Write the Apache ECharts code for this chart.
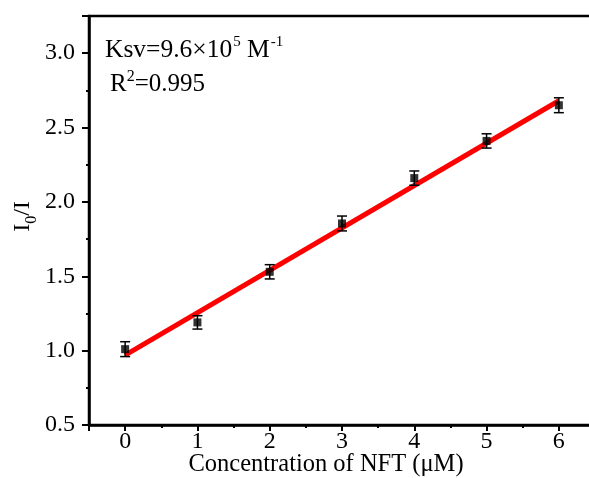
<!DOCTYPE html>
<html>
<head>
<meta charset="utf-8">
<script src="https://cdn.jsdelivr.net/npm/echarts@6/dist/echarts.min.js"></script>
<style>html,body{margin:0;padding:0;background:#fff}#c{width:589px;height:478px}</style>
</head>
<body>
<div id="c"></div>
<script>
// Data
const concentrations = [0, 1, 2, 3, 4, 5, 6];
const ratioValues = [1.01, 1.19, 1.53, 1.855, 2.16, 2.41, 2.65];
const ratioErrors = [0.05, 0.045, 0.048, 0.05, 0.048, 0.048, 0.05];
const fitX = [0, 6];
const fitY = [0.97, 2.68];
const yTickLabels = ['0.5', '1.0', '1.5', '2.0', '2.5', '3.0'];
const xTickLabels = ['0', '1', '2', '3', '4', '5', '6'];

const FONT = '"Liberation Serif", "Times New Roman", serif';
const chart = echarts.init(document.getElementById('c'), null, {renderer: 'canvas'});

const pts = concentrations.map((x, i) => [x, ratioValues[i]]);
const errs = concentrations.map((x, i) => [x, ratioValues[i] - ratioErrors[i], ratioValues[i] + ratioErrors[i]]);
const fit = fitX.map((x, i) => [x, fitY[i]]);

chart.setOption({
  animation: false,
  backgroundColor: '#fff',
  grid: {left: 89, right: -6, top: 16, bottom: 53, containLabel: false, outerBoundsMode: 'none',
         show: true, borderColor: '#000', borderWidth: 2.5, backgroundColor: 'transparent'},
  xAxis: {
    type: 'value', min: -0.5, max: 6.5, splitNumber: 7,
    name: 'Concentration of NFT (\u03bcM)', nameLocation: 'middle', nameGap: 27, nameMoveOverlap: false,
    nameTextStyle: {fontFamily: FONT, fontSize: 24.5, color: '#000', padding: [0, 32, 0, 0]},
    axisLine: {onZero: false, lineStyle: {color: '#000', width: 2.5}},
    axisTick: {show: true, inside: false, length: 6, lineStyle: {color: '#000', width: 2}},
    minorTick: {show: true, splitNumber: 2, length: 3, lineStyle: {color: '#000', width: 2}},
    splitLine: {show: false},
    axisLabel: {
      fontFamily: FONT, fontSize: 24, color: '#000', margin: 5, showMinLabel: false, showMaxLabel: false,
      formatter: v => { const i = xTickLabels.indexOf(String(v)); return i >= 0 ? xTickLabels[i] : ''; }
    }
  },
  yAxis: {
    type: 'value', min: 0.5, max: 3.25, interval: 0.5,
    name: '{a|I}{b|0}{a|/I}', nameLocation: 'middle', nameGap: 54, nameRotate: 90, nameMoveOverlap: false,
    nameTextStyle: {
      fontFamily: FONT, fontSize: 24, color: '#000', padding: [0, 0, 0, 8],
      rich: {
        a: {fontFamily: FONT, fontSize: 24, color: '#000', verticalAlign: 'bottom', lineHeight: 26},
        b: {fontFamily: FONT, fontSize: 16, color: '#000', verticalAlign: 'bottom', lineHeight: 16, padding: [0, 0, -5, 0]}
      }
    },
    axisLine: {onZero: false, lineStyle: {color: '#000', width: 2.5}},
    axisTick: {show: true, inside: false, length: 7, lineStyle: {color: '#000', width: 2}},
    minorTick: {show: true, splitNumber: 2, length: 3, lineStyle: {color: '#000', width: 2}},
    splitLine: {show: false},
    axisLabel: {
      fontFamily: FONT, fontSize: 24, color: '#000', margin: 14, showMaxLabel: false,
      formatter: v => { const s = v.toFixed(1); return yTickLabels.indexOf(s) >= 0 && Math.abs(v * 2 - Math.round(v * 2)) < 1e-6 ? s : ''; }
    }
  },
  series: [
    {
      type: 'line', data: fit, symbol: 'none', z: 3,
      lineStyle: {color: '#ff0000', width: 5}
    },
    {
      type: 'custom', data: errs, z: 4,
      renderItem: (params, api) => {
        const x = api.value(0);
        const lo = api.coord([x, api.value(1)]);
        const hi = api.coord([x, api.value(2)]);
        const w = 5;
        const st = {stroke: '#000', lineWidth: 1.5};
        return {type: 'group', children: [
          {type: 'line', shape: {x1: lo[0], y1: lo[1], x2: hi[0], y2: hi[1]}, style: st},
          {type: 'line', shape: {x1: lo[0] - w, y1: lo[1], x2: lo[0] + w, y2: lo[1]}, style: st},
          {type: 'line', shape: {x1: hi[0] - w, y1: hi[1], x2: hi[0] + w, y2: hi[1]}, style: st}
        ]};
      }
    },
    {
      type: 'scatter', data: pts, symbol: 'rect', symbolSize: 8, z: 5,
      itemStyle: {color: '#000'}
    }
  ],
  graphic: [
    {
      type: 'text', left: 105, top: 35, z: 10,
      style: {
        text: '{a|Ksv=9.6\u00d710}{s|5}{a| M}{s|-1}',
        fontFamily: FONT, fill: '#000',
        rich: {
          a: {fontFamily: FONT, fontSize: 25.5, fill: '#000', verticalAlign: 'bottom', lineHeight: 28},
          s: {fontFamily: FONT, fontSize: 15, fill: '#000', verticalAlign: 'top', lineHeight: 16, padding: [0, 0, 0, 1]}
        }
      }
    },
    {
      type: 'text', left: 110, top: 69, z: 10,
      style: {
        text: '{a|R}{s|2}{a|=0.995}',
        fontFamily: FONT, fill: '#000',
        rich: {
          a: {fontFamily: FONT, fontSize: 25, fill: '#000', verticalAlign: 'bottom', lineHeight: 28},
          s: {fontFamily: FONT, fontSize: 16, fill: '#000', verticalAlign: 'top', lineHeight: 16}
        }
      }
    }
  ]
});
</script>
</body>
</html>
